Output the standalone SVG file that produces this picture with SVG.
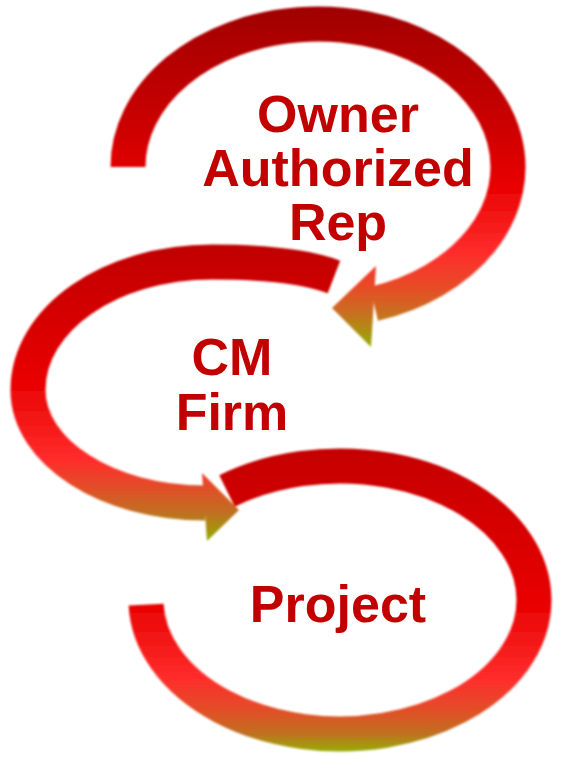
<svg xmlns="http://www.w3.org/2000/svg" width="565" height="759" viewBox="0 0 565 759">
<style>
.lbl{font-family:"Liberation Sans",Arial,sans-serif;font-weight:bold;fill:#c20000;text-anchor:middle}
.band{fill:none;stroke-width:35;stroke-linecap:butt}
</style>
<defs>
<linearGradient id="g1" gradientUnits="userSpaceOnUse" x1="0" y1="5" x2="0" y2="348">
<stop offset="0" stop-color="#a00000"/>
<stop offset="0.35" stop-color="#cc0000"/>
<stop offset="0.52" stop-color="#e80000"/>
<stop offset="0.72" stop-color="#ff2c2c"/>
<stop offset="0.82" stop-color="#e84a28"/>
<stop offset="0.9" stop-color="#c87020"/>
<stop offset="1" stop-color="#8fb000"/>
</linearGradient>
<linearGradient id="g2" gradientUnits="userSpaceOnUse" x1="0" y1="245" x2="0" y2="543">
<stop offset="0" stop-color="#c00000"/>
<stop offset="0.45" stop-color="#e80000"/>
<stop offset="0.72" stop-color="#ff2c2c"/>
<stop offset="0.82" stop-color="#e05028"/>
<stop offset="0.9" stop-color="#c07020"/>
<stop offset="1" stop-color="#90b000"/>
</linearGradient>
<linearGradient id="g3" gradientUnits="userSpaceOnUse" x1="0" y1="447" x2="0" y2="755">
<stop offset="0" stop-color="#c40000"/>
<stop offset="0.5" stop-color="#e80000"/>
<stop offset="0.75" stop-color="#ff2c2c"/>
<stop offset="0.86" stop-color="#e05028"/>
<stop offset="0.93" stop-color="#c07020"/>
<stop offset="1" stop-color="#8fb800"/>
</linearGradient>
<filter id="soft" x="-5%" y="-5%" width="110%" height="110%">
<feGaussianBlur stdDeviation="0.8"/>
</filter>
</defs>
<g id="connectors" filter="url(#soft)">
<g id="arrow-top">
<path class="band" stroke="url(#g1)" d="M128,167 A190,143 0 1 1 374,303.7"/>
<polygon fill="url(#g1)" points="376,266 332,308 371,347"/>
</g>
<g id="arrow-middle">
<path class="band" stroke="url(#g2)" d="M334,277 C300,264 250,262 212,262 C110,262 28,319 28,390 C28,452 107,503 205,503"/>
<polygon fill="url(#g2)" points="202,473 239,510 207,541"/>
</g>
<g id="arrow-bottom">
<path class="band" stroke="url(#g3)" d="M227,491 A194,134 0 1 1 146.1,604.7"/>
</g>
</g>
<g id="node-owner">
<text class="lbl" font-size="52" x="338" y="132">Owner</text>
<text class="lbl" font-size="52" x="338" y="186">Authorized</text>
<text class="lbl" font-size="52" x="338" y="240">Rep</text>
</g>
<g id="node-cm">
<text class="lbl" font-size="52" x="232" y="375">CM</text>
<text class="lbl" font-size="52" x="232" y="430">Firm</text>
</g>
<g id="node-project">
<text class="lbl" font-size="52" x="338" y="622">Project</text>
</g>
</svg>
